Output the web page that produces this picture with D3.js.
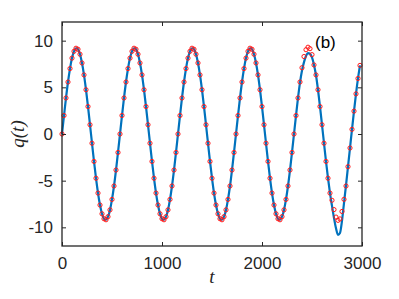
<!DOCTYPE html>
<html>
<head>
<meta charset="utf-8">
<script src="https://cdn.jsdelivr.net/npm/d3@7"></script>
<style>
  html, body { margin: 0; padding: 0; background: #fff; }
  svg { display: block; }
  .tick text { font-family: "Liberation Sans", Arial, sans-serif; font-size: 17px; fill: #262626; }
  .tick line { stroke: #262626; stroke-width: 1; }
</style>
</head>
<body>
<svg width="399" height="299"></svg>
<script>
// sample times (every 20 time units)
const times = [
  0, 20, 40, 60, 80, 100, 120, 140, 160, 180, 200, 220, 240, 260, 280, 300, 320, 340, 360, 380,
  400, 420, 440, 460, 480, 500, 520, 540, 560, 580, 600, 620, 640, 660, 680, 700, 720, 740, 760, 780,
  800, 820, 840, 860, 880, 900, 920, 940, 960, 980, 1000, 1020, 1040, 1060, 1080, 1100, 1120, 1140, 1160, 1180,
  1200, 1220, 1240, 1260, 1280, 1300, 1320, 1340, 1360, 1380, 1400, 1420, 1440, 1460, 1480, 1500, 1520, 1540, 1560, 1580,
  1600, 1620, 1640, 1660, 1680, 1700, 1720, 1740, 1760, 1780, 1800, 1820, 1840, 1860, 1880, 1900, 1920, 1940, 1960, 1980,
  2000, 2020, 2040, 2060, 2080, 2100, 2120, 2140, 2160, 2180, 2200, 2220, 2240, 2260, 2280, 2300, 2320, 2340, 2360, 2380,
  2400, 2420, 2440, 2460, 2480, 2500, 2520, 2540, 2560, 2580, 2600, 2620, 2640, 2660, 2680, 2700, 2720, 2740, 2760, 2780,
  2800, 2820, 2840, 2860, 2880, 2900, 2920, 2940, 2960, 2980
];

// red circles (one row per oscillation)
const markerVals = [
  0, 1.98, 3.86, 5.57, 7.01, 8.13, 8.86, 9.19, 9.08, 8.55, 7.61, 6.33, 4.74, 2.94, 0.99, -0.99, -2.94, -4.74, -6.33, -7.61, -8.55, -9.08, -9.19, -8.86, -8.13, -7.01, -5.57, -3.86, -1.98,
  0, 1.98, 3.86, 5.57, 7.01, 8.13, 8.86, 9.19, 9.08, 8.55, 7.61, 6.33, 4.74, 2.94, 0.99, -0.99, -2.94, -4.74, -6.33, -7.61, -8.55, -9.08, -9.19, -8.86, -8.13, -7.01, -5.57, -3.86, -1.98,
  0, 1.98, 3.86, 5.57, 7.01, 8.13, 8.86, 9.19, 9.08, 8.55, 7.61, 6.33, 4.74, 2.94, 0.99, -0.99, -2.94, -4.74, -6.33, -7.61, -8.55, -9.08, -9.19, -8.86, -8.13, -7.01, -5.57, -3.86, -1.98,
  0, 1.98, 3.86, 5.57, 7.01, 8.13, 8.86, 9.19, 9.08, 8.55, 7.61, 6.33, 4.74, 2.94, 0.99, -0.99, -2.94, -4.74, -6.33, -7.61, -8.55, -9.08, -9.19, -8.86, -8.13, -7.01, -5.57, -3.86, -1.98,
  0, 1.98, 3.86, 5.57, 7.1, 8.3, 9.03, 9.3, 9.14, 8.5, 7.4, 6.33, 4.74, 2.94, 0.99, -0.99, -2.94, -4.74, -6.33, -7.1, -8.1, -8.9, -9.25, -9.1, -8.3, -7.0, -5.57, -3.5, -1.5,
  0.5, 2.45, 4.3, 5.95, 7.35
];

// blue curve
const lineVals = [
  0, 1.98, 3.86, 5.57, 7.01, 8.13, 8.86, 9.19, 9.08, 8.55, 7.61, 6.33, 4.74, 2.94, 0.99, -0.99, -2.94, -4.74, -6.33, -7.61, -8.55, -9.08, -9.19, -8.86, -8.13, -7.01, -5.57, -3.86, -1.98,
  0, 1.98, 3.86, 5.57, 7.01, 8.13, 8.86, 9.19, 9.08, 8.55, 7.61, 6.33, 4.74, 2.94, 0.99, -0.99, -2.94, -4.74, -6.33, -7.61, -8.55, -9.08, -9.19, -8.86, -8.13, -7.01, -5.57, -3.86, -1.98,
  0, 1.98, 3.86, 5.57, 7.01, 8.13, 8.86, 9.19, 9.08, 8.55, 7.61, 6.33, 4.74, 2.94, 0.99, -0.99, -2.94, -4.74, -6.33, -7.61, -8.55, -9.08, -9.19, -8.86, -8.13, -7.01, -5.57, -3.86, -1.98,
  0, 1.98, 3.86, 5.57, 7.01, 8.13, 8.86, 9.19, 9.08, 8.55, 7.61, 6.33, 4.74, 2.94, 0.99, -0.99, -2.94, -4.74, -6.33, -7.61, -8.55, -9.08, -9.19, -8.86, -8.13, -7.01, -5.57, -3.86, -1.98,
  0, 1.98, 3.86, 5.5, 6.8, 7.7, 8.35, 8.67, 8.6, 8.2, 7.4, 6.3, 4.74, 2.94, 0.99, -0.99, -2.94, -4.74, -6.33, -7.7, -9.0, -10.1, -10.8, -10.6, -9.3, -7.4, -5.5, -3.5, -1.5,
  0.5, 2.45, 4.3, 5.95, 7.35
];

const xTicks = [0, 1000, 2000, 3000];
const yTicks = [-10, -5, 0, 5, 10];

const svg = d3.select("svg");
const mLeft = 62, mRight = 362, mTop = 22, mBottom = 246;
const axisColor = "#262626";

const x = d3.scaleLinear().domain([0, 3000]).range([mLeft, mRight]);
const y = d3.scaleLinear().domain([-12, 12]).range([mBottom, mTop]);

const pts = times.map((t, i) => ({ t: t, line: lineVals[i], mark: markerVals[i] }));

// curve
svg.append("path")
  .datum(pts)
  .attr("fill", "none")
  .attr("stroke", "#0072BD")
  .attr("stroke-width", 2.2)
  .attr("d", d3.line().x(d => x(d.t)).y(d => y(d.line)).curve(d3.curveMonotoneX));

// markers
svg.append("g")
  .selectAll("circle")
  .data(pts)
  .join("circle")
  .attr("cx", d => x(d.t))
  .attr("cy", d => y(d.mark))
  .attr("r", 2.1)
  .attr("fill", "none")
  .attr("stroke", "#ff1a1a")
  .attr("stroke-width", 1);

// axes, ticks pointing inward
const gx = svg.append("g").attr("transform", `translate(0,${mBottom})`)
  .call(d3.axisBottom(x).tickValues(xTicks).tickSizeInner(-4).tickSizeOuter(0).tickPadding(11).tickFormat(d3.format("d")));
const gxTop = svg.append("g").attr("transform", `translate(0,${mTop})`)
  .call(d3.axisTop(x).tickValues(xTicks).tickSizeInner(-4).tickSizeOuter(0).tickFormat(""));
const gy = svg.append("g").attr("transform", `translate(${mLeft},0)`)
  .call(d3.axisLeft(y).tickValues(yTicks).tickSizeInner(-4).tickSizeOuter(0).tickPadding(9).tickFormat(d => String(d)));
const gyRight = svg.append("g").attr("transform", `translate(${mRight},0)`)
  .call(d3.axisRight(y).tickValues(yTicks).tickSizeInner(-4).tickSizeOuter(0).tickFormat(""));

[gx, gxTop, gy, gyRight].forEach(g => {
  g.select(".domain").remove();
  g.attr("font-family", null).attr("font-size", null);
});

// box
svg.append("rect")
  .attr("x", mLeft).attr("y", mTop)
  .attr("width", mRight - mLeft).attr("height", mBottom - mTop)
  .attr("fill", "none")
  .attr("stroke", axisColor)
  .attr("stroke-width", 1.3);

// labels
svg.append("text")
  .attr("x", (mLeft + mRight) / 2)
  .attr("y", 283)
  .attr("text-anchor", "middle")
  .attr("font-family", "'Liberation Serif', 'DejaVu Serif', serif")
  .attr("font-style", "italic")
  .attr("font-size", 19)
  .attr("fill", axisColor)
  .text("t");

svg.append("text")
  .attr("transform", `translate(24,${(mTop + mBottom) / 2}) rotate(-90)`)
  .attr("text-anchor", "middle")
  .attr("font-family", "'Liberation Serif', 'DejaVu Serif', serif")
  .attr("font-style", "italic")
  .attr("font-size", 19)
  .attr("fill", axisColor)
  .text("q(t)");

svg.append("text")
  .attr("x", 315)
  .attr("y", 48)
  .attr("font-family", "'Liberation Sans', Arial, sans-serif")
  .attr("font-size", 17)
  .attr("fill", "#000")
  .text("(b)");
</script>
</body>
</html>
